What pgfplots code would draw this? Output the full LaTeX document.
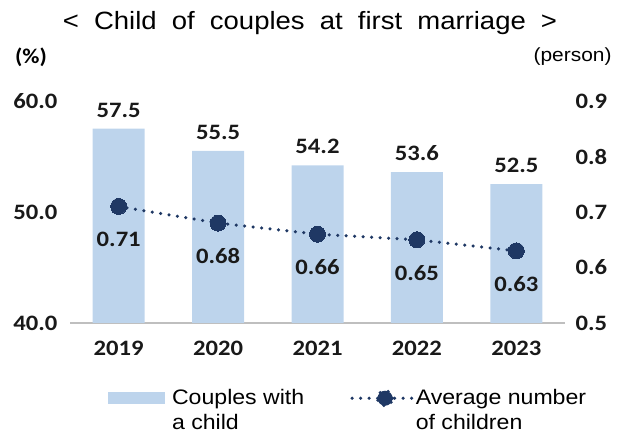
\documentclass[border=0pt]{standalone}
\usepackage{pgfplots}
\pgfplotsset{compat=1.18}
\usepackage{fontspec}
\setmainfont{Liberation Sans}[FakeStretch=1.1]
\newfontfamily\numfont{Carlito}[FakeStretch=1.12]
\definecolor{barc}{HTML}{BDD4EC}
\definecolor{navy}{HTML}{1F3864}
\begin{document}
\begin{tikzpicture}
\path[use as bounding box] (0pt,0pt) rectangle (618pt,433pt);
\node[font=\fontsize{25}{30}\selectfont] at (310pt,410pt) {<\hspace{0.3em} Child\hspace{0.3em} of\hspace{0.3em} couples\hspace{0.3em} at\hspace{0.3em} first\hspace{0.3em} marriage\hspace{0.3em} >};
\node[font=\numfont\bfseries\fontsize{21}{24}\selectfont] at (31pt,376pt) {(\%)};
\node[font=\fontsize{19}{22}\selectfont, anchor=east] at (615pt,376pt) {(person)};
\begin{axis}[
  at={(70pt,110pt)}, anchor=south west, scale only axis,
  width=495pt, height=222pt,
  xmin=-0.49, xmax=4.49, ymin=40, ymax=60,
  axis x line*=bottom, axis y line*=left,
  x axis line style={draw=black!25, line width=1.3pt, -},
  y axis line style={draw=none, -},
  xtick={0,1,2,3,4}, xticklabels={2019,2020,2021,2022,2023},
  ytick={40,50,60},
  major tick length=0pt,
  /pgf/number format/assume math mode=true,
  ticklabel style={font=\numfont\bfseries\fontsize{22}{24}\selectfont, text=black!90},
  yticklabel style={/pgf/number format/.cd, fixed, fixed zerofill, precision=1, /tikz/.cd, xshift=-9pt},
  xticklabel style={yshift=-15pt},
  clip=false,
]
\addplot[ybar, bar width=52pt, fill=barc, draw=none,
  nodes near coords,
  nodes near coords style={font=\numfont\bfseries\fontsize{22}{24}\selectfont, text=black!90, anchor=south, yshift=8pt, /pgf/number format/.cd, fixed, fixed zerofill, precision=1, assume math mode=true}]
  coordinates {(0,57.5) (1,55.5) (2,54.2) (3,53.6) (4,52.5)};
\end{axis}
\begin{axis}[
  at={(70pt,110pt)}, anchor=south west, scale only axis,
  width=495pt, height=222pt,
  xmin=-0.49, xmax=4.49, ymin=0.5, ymax=0.9,
  axis y line*=right, axis x line=none,
  y axis line style={draw=none, -},
  ytick={0.5,0.6,0.7,0.8,0.9},
  major tick length=0pt,
  /pgf/number format/assume math mode=true,
  ticklabel style={font=\numfont\bfseries\fontsize{22}{24}\selectfont, text=black!90},
  yticklabel style={/pgf/number format/.cd, fixed, fixed zerofill, precision=1, /tikz/.cd, xshift=7pt},
  clip=false,
  legend columns=2,
  legend cell align=left,
  legend style={draw=none, fill=none, at={(0.07,-0.28)}, anchor=north west,
    font=\fontsize{21}{25}\selectfont, cells={align=left},
    /tikz/every even column/.append style={column sep=44pt}},
]
\addlegendimage{legend image code/.code={
  \path[draw=none] (0pt,-20pt) -- (62pt,20pt);
  \fill[barc] (0pt,7pt) rectangle (56pt,18pt);}}
\addlegendentry{Couples with\\a child}
\addplot[navy, line width=3.5pt, dash pattern=on 0pt off 8.5pt, line cap=round,
  mark=*, mark size=8pt, mark options={solid, fill=navy, draw=navy, line width=0pt},
  legend image code/.code={
    \path[draw=none] (0pt,-20pt) -- (60pt,20pt);
    \draw[navy, line width=3.5pt, dash pattern=on 0pt off 8.5pt, line cap=round] (0pt,12pt) -- (60pt,12pt);
    \fill[navy] (33pt,12pt) circle (7.5pt);},
  nodes near coords,
  nodes near coords style={font=\numfont\bfseries\fontsize{22}{24}\selectfont, text=black!90, anchor=north, yshift=-22pt, /pgf/number format/.cd, fixed, fixed zerofill, precision=2, assume math mode=true}]
  coordinates {(0,0.71) (1,0.68) (2,0.66) (3,0.65) (4,0.63)};
\addlegendentry{Average number\\of children}
\end{axis}
\end{tikzpicture}
\end{document}
